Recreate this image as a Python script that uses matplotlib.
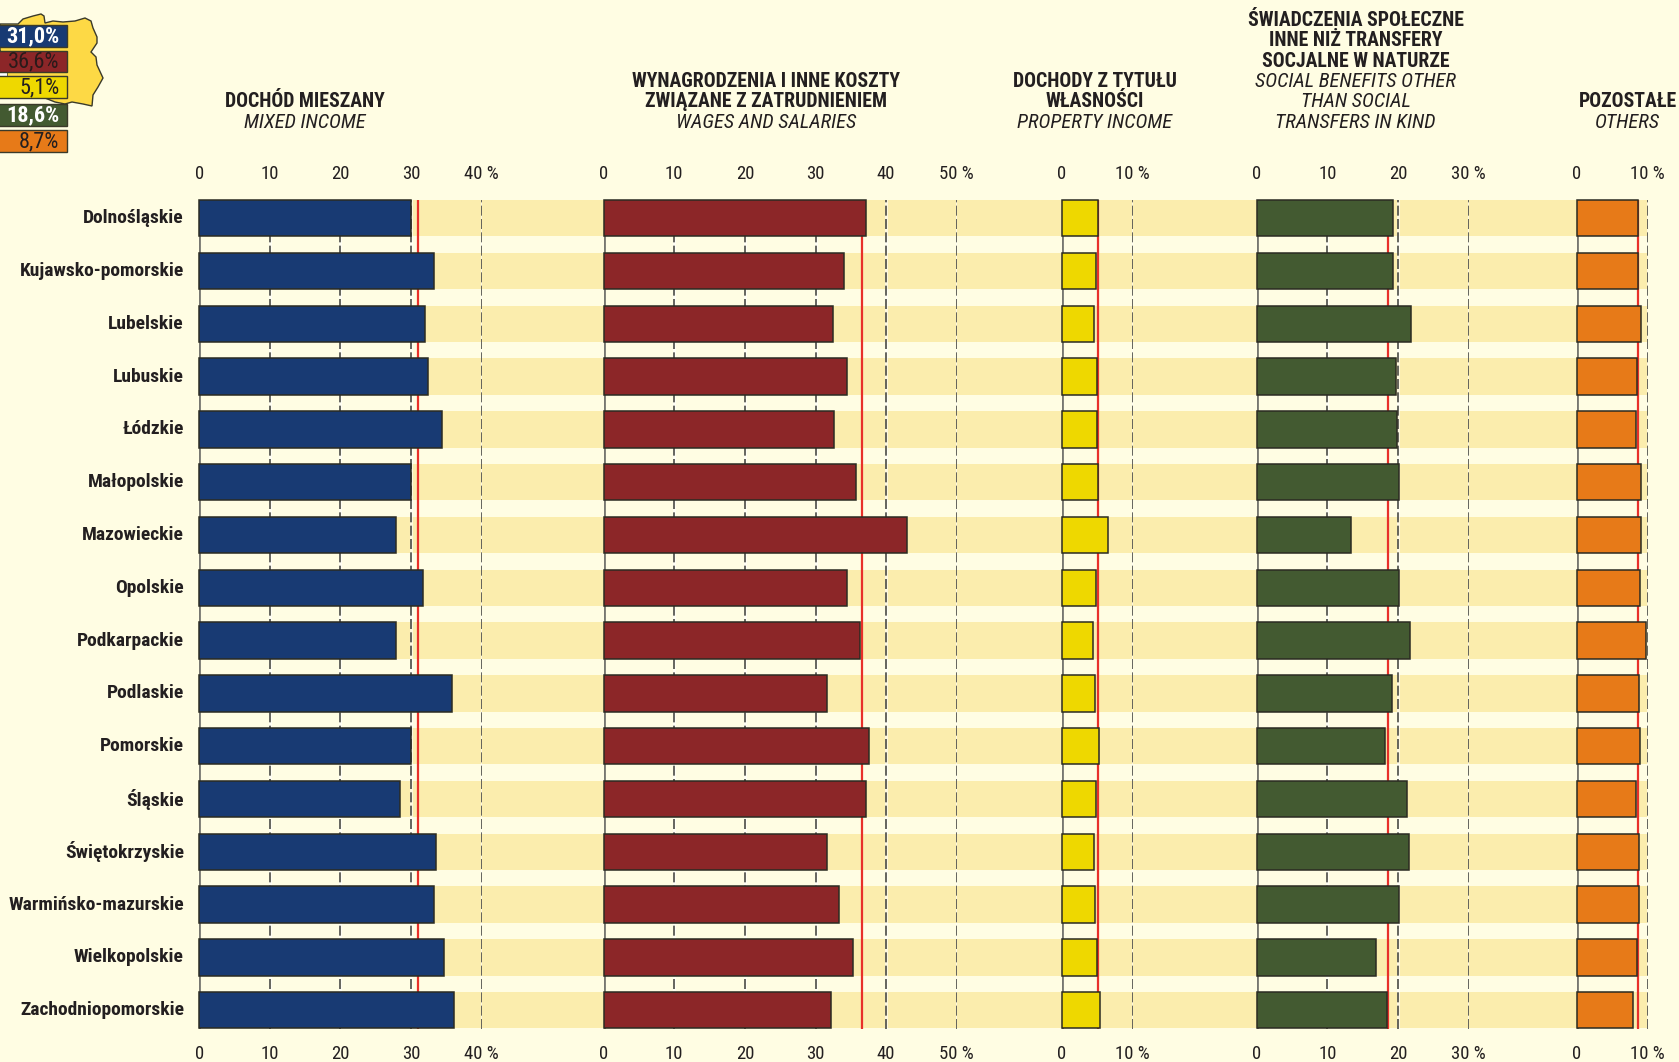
import matplotlib
matplotlib.use('Agg')
import matplotlib.pyplot as plt
from matplotlib import font_manager as fm
from matplotlib.transforms import ScaledTranslation

# waski krój jak w oryginale; bez niego zmniejszamy tekst, zeby sie miescil
have = {f.name for f in fm.fontManager.ttflist}
narrow = 'Roboto Condensed' in have
plt.rcParams['font.family'] = ['Roboto Condensed', 'Liberation Sans', 'DejaVu Sans'] if narrow else ['Liberation Sans', 'DejaVu Sans']
fs = 1.0 if narrow else 0.84

regions = ['Dolnośląskie', 'Kujawsko-pomorskie', 'Lubelskie', 'Lubuskie', 'Łódzkie', 'Małopolskie',
           'Mazowieckie', 'Opolskie', 'Podkarpackie', 'Podlaskie', 'Pomorskie', 'Śląskie',
           'Świętokrzyskie', 'Warmińsko-mazurskie', 'Wielkopolskie', 'Zachodniopomorskie']

mixed = [30.0, 33.2, 32.0, 32.4, 34.4, 30.0, 27.9, 31.7, 27.9, 35.8, 30.0, 28.5, 33.5, 33.2, 34.6, 36.1]
wages = [37.1, 34.1, 32.5, 34.4, 32.6, 35.7, 43.0, 34.4, 36.3, 31.6, 37.6, 37.2, 31.6, 33.3, 35.3, 32.2]
prop_inc = [5.1, 4.9, 4.5, 5.0, 5.0, 5.1, 6.5, 4.9, 4.4, 4.7, 5.2, 4.9, 4.5, 4.7, 5.0, 5.4]
social = [19.3, 19.3, 21.9, 19.7, 19.9, 20.1, 13.4, 20.2, 21.7, 19.2, 18.2, 21.3, 21.6, 20.2, 16.9, 18.4]
others = [8.6, 8.6, 9.1, 8.5, 8.3, 9.0, 9.1, 8.9, 9.8, 8.8, 8.9, 8.3, 8.8, 8.8, 8.5, 7.9]

# srednia krajowa (czerwona linia, legenda na mapie)
poland = [31.0, 36.6, 5.1, 18.6, 8.7]
poland_labels = ['31,0%', '36,6%', '5,1%', '18,6%', '8,7%']

series = [mixed, wages, prop_inc, social, others]
axis_max = [40, 50, 10, 30, 10]
colors = ['#183A73', '#8C2628', '#EED800', '#435A31', '#E77A18']
label_colors = ['white', '#2a1a1a', '#231F20', 'white', '#231F20']

headers = [
    (['DOCHÓD MIESZANY'], ['MIXED INCOME']),
    (['WYNAGRODZENIA I INNE KOSZTY', 'ZWIĄZANE Z ZATRUDNIENIEM'], ['WAGES AND SALARIES']),
    (['DOCHODY Z TYTUŁU', 'WŁASNOŚCI'], ['PROPERTY INCOME']),
    (['ŚWIADCZENIA SPOŁECZNE', 'INNE NIŻ TRANSFERY', 'SOCJALNE W NATURZE'],
     ['SOCIAL BENEFITS OTHER', 'THAN SOCIAL', 'TRANSFERS IN KIND']),
    (['POZOSTAŁE'], ['OTHERS']),
]

W, H = 1679, 1062
BG = '#FFFDE3'
BAND = '#FBEDAD'
INK = '#231F20'

# pozycje paneli w pikselach
x_left = [199.2, 603.7, 1061.7, 1256.7, 1576.7]
x_right = [481.7, 956.7, 1132.7, 1468.7, 1647.7]
head_x = [304.5, 766, 1094.5, 1355.5, 1627.6]
top, bottom = 200, 1028.5
bar_h = 0.69
n = len(regions)
ylim = (n - 1 + bar_h / 2, -bar_h / 2)


def px_axes(x0, x1, y0, y1):
    return fig.add_axes([x0 / W, 1 - y1 / H, (x1 - x0) / W, (y1 - y0) / H])


fig = plt.figure(figsize=(W / 100, H / 100), dpi=100, facecolor=BG)

# pasy tla
bg = px_axes(x_left[0], x_right[-1], top, bottom)
bg.barh(range(n), [1] * n, height=bar_h, left=0, color=BAND, linewidth=0)
bg.set_xlim(0, 1)
bg.set_ylim(*ylim)
bg.axis('off')

for i in range(5):
    ax = px_axes(x_left[i], x_right[i], top, bottom)
    ax.patch.set_alpha(0)
    ticks = list(range(0, axis_max[i] + 1, 10))
    for t in ticks[1:]:
        ax.axvline(t, color='white', lw=2.2, alpha=0.6, zorder=1)
        ax.axvline(t, color='#4a4a44', lw=1.2, dashes=(6, 2), zorder=2)
    ax.axvline(0, color='#777770', lw=2, zorder=2)
    ax.axvline(poland[i], color='#E8302A', lw=1.6, zorder=3)
    ax.barh(range(n), series[i], height=bar_h, color=colors[i], edgecolor='#2b2b22', linewidth=1.1, zorder=4,
            clip_on=False)
    ax.set_xlim(0, axis_max[i])
    ax.set_ylim(*ylim)
    for s in ax.spines.values():
        s.set_visible(False)
    ax.set_xticks(ticks)
    ax.set_xticklabels([str(t) if t < axis_max[i] else f'{t} %' for t in ticks])
    ax.tick_params(axis='x', length=0, top=True, labeltop=True, labelbottom=True, labelsize=13.5 * fs, pad=12,
                   labelcolor=INK)
    ax.set_yticks([])
    if i == 0:
        ax.set_yticks(range(n))
        ax.set_yticklabels(regions, fontsize=14 * fs, fontweight='bold', color=INK)
        ax.tick_params(axis='y', length=0, pad=11)
        for lbl in ax.get_yticklabels():
            lbl.set_transform(lbl.get_transform() + ScaledTranslation(0, 2 / 100, fig.dpi_scale_trans))

# naglowki, legenda i mapa we wspolrzednych pikselowych
top_ax = fig.add_axes([0, 0, 1, 1])
top_ax.set_xlim(0, W)
top_ax.set_ylim(H, 0)
top_ax.axis('off')
top_ax.patch.set_alpha(0)

for cx, (bold, italic) in zip(head_x, headers):
    lines = [(t, 'bold', 'normal', 14.2) for t in bold] + [(t, 'normal', 'italic', 14.7) for t in italic]
    for k, (t, weight, style, size) in enumerate(lines):
        y = 122 - 20.3 * (len(lines) - 1 - k)
        top_ax.text(cx, y, t, ha='center', va='center', fontsize=size * fs, fontweight=weight, fontstyle=style,
                    color=INK)

# obrys Polski, szkic
outline_x = [18, 23, 33, 41, 44, 45, 53, 63, 75, 85, 91, 93, 97, 97, 91, 96, 97, 103, 98, 93, 92, 83, 72, 65, 55,
             45, 13, 7, 7, 0, 0]
outline_y = [24, 19, 16, 14, 16, 23, 21, 22, 21, 18, 21, 28, 37, 43, 52, 57, 65, 78, 87, 95, 106, 104, 102, 104,
             102, 98, 97, 77, 72, 50, 24]
top_ax.fill(outline_x, outline_y, facecolor='#FDD945', edgecolor='#3a3a2a', linewidth=1)
top_ax.fill_between([0, 7], 71.5, 76, color='white', linewidth=0)

box_top = [25, 51, 76, 104, 130]
box_bot = [46.7, 71.7, 98, 126, 152]
for i in range(5):
    top_ax.fill([-3, 67, 67, -3], [box_top[i], box_top[i], box_bot[i], box_bot[i]], facecolor=colors[i],
                edgecolor='#3a3a2a', linewidth=1)
    top_ax.text(59.5, (box_top[i] + box_bot[i]) / 2 + 0.5, poland_labels[i], ha='right', va='center', fontsize=16 * fs,
                color=label_colors[i], fontweight='bold' if i in (0, 3) else 'normal')

fig.savefig('out.png', dpi=100, facecolor=BG)
